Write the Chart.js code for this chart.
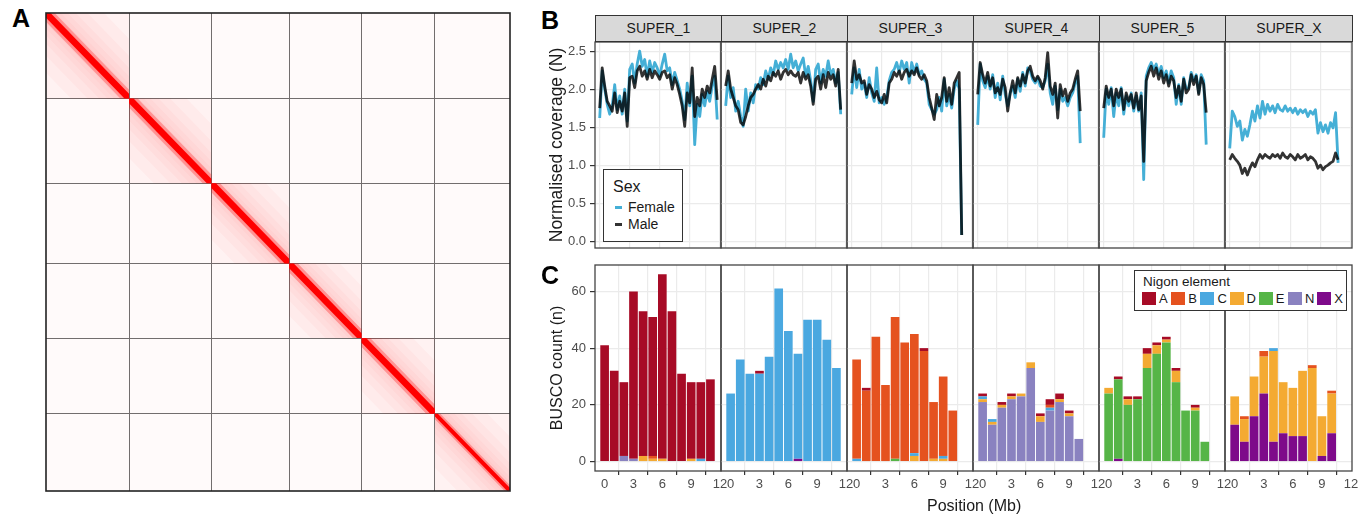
<!DOCTYPE html>
<html>
<head>
<meta charset="utf-8">
<script src="https://cdn.jsdelivr.net/npm/chart.js@4.4.1/dist/chart.umd.min.js"></script>
<style>
  body { margin: 0; background: #fff; font-family: 'Liberation Sans', Arial, sans-serif; }
  #fig { position: relative; width: 1368px; height: 516px; overflow: hidden; background: #fff; }
  canvas { position: absolute; z-index: 1; }
  .letter { position: absolute; font-weight: bold; font-size: 25px; color: #000; line-height: 1; z-index: 5; }
  .strip { position: absolute; top: 15px; height: 27px; background: #d9d9d9; border: 1px solid #333; z-index: 5;
           box-sizing: border-box; font-size: 14px; color: #1a1a1a; text-align: center; line-height: 25px; }
  .xtitle { position: absolute; font-size: 16px; color: #1a1a1a; z-index: 5; }
  .legend { position: absolute; background: #fff; border: 1px solid #333; box-sizing: border-box; color: #1a1a1a; z-index: 5; }
</style>
</head>
<body>
<div id="fig">
  <div class="letter" style="left:12px;top:6px;">A</div>
  <div class="letter" style="left:541px;top:8px;">B</div>
  <div class="letter" style="left:541px;top:263px;">C</div>
  <div class="xtitle" style="left:927px;top:497px;">Position (Mb)</div>

  <div class="legend" style="left:603px;top:169px;width:80px;height:73px;">
    <div style="position:absolute;left:9px;top:8px;font-size:16px;">Sex</div>
    <div style="position:absolute;left:11px;top:36px;width:7px;height:3px;background:#45afd6;"></div>
    <div style="position:absolute;left:24px;top:29px;font-size:14px;">Female</div>
    <div style="position:absolute;left:11px;top:53px;width:7px;height:3px;background:#333;"></div>
    <div style="position:absolute;left:24px;top:46px;font-size:14px;">Male</div>
  </div>

  <div class="legend" id="nigonLegend" style="left:1134px;top:270px;width:213px;height:41px;">
    <div style="position:absolute;left:8px;top:3px;font-size:13.5px;">Nigon element</div>
  </div>
</div>

<script>
// chromosomes
const chromNames = ['SUPER_1', 'SUPER_2', 'SUPER_3', 'SUPER_4', 'SUPER_5', 'SUPER_X'];
const chromLengths = [12.05, 11.95, 11.3, 10.5, 10.65, 10.9]; // Mb, used for the Hi-C map

// normalised coverage, 250 kb windows
const binSize = 0.25;
const female1 = [1.62,2.24,2.00,1.80,1.67,1.78,2.06,1.73,1.91,1.67,2.00,1.58,2.26,2.33,2.08,2.33,2.50,2.30,2.39,2.17,2.37,2.22,2.35,2.28,2.17,2.33,2.46,2.24,2.28,2.06,2.22,2.11,2.00,1.84,1.60,2.08,1.78,2.17,1.27,1.80,1.64,1.93,1.78,1.97,1.84,2.04,2.17,1.60];
const male1   = [1.75,2.28,2.04,1.84,1.78,1.71,1.95,1.69,1.84,1.71,1.95,1.51,2.15,2.17,2.02,2.24,2.30,2.17,2.24,2.13,2.26,2.15,2.24,2.19,2.13,2.22,2.24,2.15,2.19,2.00,2.15,2.06,1.93,1.78,1.51,1.95,1.82,2.28,1.64,1.89,1.78,2.00,1.89,2.04,1.95,2.13,2.30,1.86];
const female2 = [1.78,2.17,1.89,2.02,1.71,1.84,1.64,1.51,2.00,1.71,1.95,1.82,2.06,2.00,2.15,2.06,2.24,2.13,2.28,2.19,2.37,2.26,2.35,2.28,2.39,2.26,2.46,2.28,2.37,2.24,2.33,2.41,2.17,2.30,2.11,1.84,2.26,2.33,2.08,2.26,2.17,2.37,2.19,2.26,2.08,2.22,1.67];
const male2   = [2.04,2.24,2.00,1.89,1.78,1.73,1.56,1.53,1.64,1.78,1.89,1.93,2.00,2.06,2.00,2.13,2.04,2.17,2.11,2.22,2.17,2.24,2.13,2.22,2.26,2.19,2.24,2.19,2.17,2.22,2.08,2.22,2.13,2.19,2.04,1.80,2.13,2.17,2.00,2.19,2.02,2.22,2.13,2.19,2.04,2.26,1.73];
const female3 = [1.93,2.28,2.02,2.26,2.00,2.08,1.89,2.15,1.95,1.84,2.28,1.82,1.89,1.80,1.89,2.11,2.22,2.26,2.35,2.22,2.37,2.26,2.35,2.08,2.35,2.22,2.33,2.19,2.24,2.13,2.08,1.80,1.73,1.67,1.73,1.89,1.71,2.13,1.78,1.93,1.75,2.00,2.11,2.00,0.08];
const male3   = [2.08,2.37,2.13,2.19,2.08,2.11,1.93,2.06,2.00,1.89,1.97,1.86,1.82,1.93,1.82,2.08,2.13,2.22,2.17,2.24,2.13,2.22,2.26,2.17,2.24,2.19,2.28,2.17,2.13,2.19,2.11,1.89,1.75,1.60,1.93,1.78,1.89,2.15,1.84,2.02,1.80,2.08,2.15,2.22,0.08];
const female4 = [1.53,2.33,2.11,2.02,2.17,2.00,2.19,1.89,2.08,1.86,2.17,1.93,1.78,1.95,2.04,1.89,2.13,1.97,2.22,2.04,2.28,2.24,2.13,2.08,2.15,2.04,2.02,2.11,2.33,1.95,1.80,2.04,1.73,2.00,1.84,1.89,1.78,1.89,1.95,2.08,2.17,1.29];
const male4   = [1.93,2.35,2.19,2.08,2.22,2.04,2.15,1.95,2.02,1.93,2.13,2.02,1.71,1.95,2.11,1.95,2.15,2.04,2.19,2.08,2.24,2.30,2.17,2.11,2.17,2.11,2.00,2.15,2.48,2.04,1.93,2.08,1.62,2.06,1.91,2.00,1.84,1.95,2.00,2.13,2.24,1.71];
const female5 = [1.36,2.00,1.80,2.02,1.64,1.95,1.78,2.02,1.67,1.91,1.78,1.95,1.71,1.91,1.71,1.95,0.81,2.17,2.28,2.35,2.26,2.33,2.19,2.30,2.15,2.24,2.08,2.24,2.15,1.80,2.06,1.80,2.15,2.00,2.02,2.22,2.11,2.19,1.95,2.19,2.11,1.27];
const male5   = [1.75,2.04,1.89,2.00,1.78,2.00,1.89,2.00,1.73,1.95,1.84,1.93,1.75,1.95,1.73,1.91,1.05,2.11,2.22,2.30,2.17,2.28,2.13,2.24,2.08,2.19,2.04,2.17,2.11,1.89,2.04,1.84,2.13,1.95,2.00,2.19,2.06,2.17,1.93,2.15,2.06,1.69];
const femaleX = [1.22,1.71,1.64,1.51,1.58,1.33,1.47,1.38,1.53,1.71,1.58,1.78,1.62,1.84,1.67,1.80,1.71,1.78,1.69,1.80,1.73,1.71,1.78,1.71,1.75,1.69,1.75,1.67,1.73,1.69,1.73,1.64,1.71,1.67,1.73,1.42,1.56,1.44,1.53,1.42,1.56,1.49,1.69,1.03];
const maleX   = [1.07,1.14,1.09,1.05,1.00,0.89,0.96,0.87,0.96,1.03,0.98,1.07,1.14,1.09,1.14,1.11,1.09,1.14,1.11,1.14,1.09,1.16,1.11,1.09,1.14,1.11,1.07,1.14,1.09,1.11,1.14,1.07,1.11,1.09,1.05,0.96,1.00,0.94,0.98,1.00,1.03,1.05,1.16,1.07];
const femaleCov = [female1, female2, female3, female4, female5, femaleX];
const maleCov = [male1, male2, male3, male4, male5, maleX];

// BUSCO counts per 1 Mb bin, by Nigon element (one list per chromosome)
const nigonElements = ['A', 'B', 'C', 'D', 'E', 'N', 'X'];
const nigonColors = ['#a70b26', '#e5521f', '#4aa8e0', '#f4aa32', '#56b547', '#8a82c0', '#7e0a8a'];
const nigonA = [[41,32,26,59,51,49,65,53,31,27,27,29], [0,0,0,1,0,0,0,0,0,0,0,0], [0,1,0,0,0,0,0,1,0,0,0], [1,0,1,1,0,0,1,2,2,1,0], [0,1,1,1,2,1,1,1,0,1,0], [0,0,0,0,0,0,0,0,0,0,0]];
const nigonB = [[0,0,0,0,0,1,0,0,0,0,0,0], [0,0,0,0,0,0,0,0,0,0,0,0], [35,25,44,27,50,42,42,39,20,28,18], [0,0,0,0,0,0,0,1,0,0,0], [0,0,0,0,0,0,0,0,0,0,0], [0,1,0,2,0,0,0,0,1,0,1]];
const nigonC = [[0,0,0,0,0,0,0,0,0,0,1,0], [24,36,31,31,37,61,46,37,50,50,43,33], [1,0,0,0,0,0,1,0,0,1,0], [1,1,0,0,0,0,0,1,0,0,0], [0,0,0,0,0,0,0,0,0,0,0], [0,0,0,0,1,0,0,0,0,0,0]];
const nigonD = [[0,0,0,0,2,1,1,0,0,1,0,0], [0,0,0,0,0,0,0,0,0,0,0,0], [0,0,0,0,0,0,2,0,1,1,0], [1,1,1,1,1,2,2,0,1,1,0], [2,0,2,0,5,3,1,4,0,1,0], [10,8,14,13,32,18,17,23,33,14,14]];
const nigonE = [[0,0,0,0,0,0,0,0,0,0,0,0], [0,0,0,0,0,0,0,0,0,0,0,0], [0,0,0,0,1,0,0,0,0,0,0], [0,0,0,0,0,0,0,0,0,0,0], [24,28,20,22,33,38,42,28,18,18,7], [0,0,0,0,0,0,0,0,0,0,0]];
const nigonN = [[0,0,2,1,0,0,0,0,0,0,0,0], [0,0,0,0,0,0,0,0,0,0,0,0], [0,0,0,0,0,0,0,0,0,0,0], [21,13,19,22,23,33,14,18,21,16,8], [0,0,0,0,0,0,0,0,0,0,0], [0,0,0,0,0,0,0,0,0,0,0]];
const nigonX = [[0,0,0,0,0,0,0,0,0,0,0,0], [0,0,0,0,0,0,0,1,0,0,0,0], [0,0,0,0,0,0,0,0,0,0,0], [0,0,0,0,0,0,0,0,0,0,0], [0,1,0,0,0,0,0,0,0,0,0], [13,7,16,24,7,10,9,9,0,2,10]];
const nigonCounts = [nigonA, nigonB, nigonC, nigonD, nigonE, nigonN, nigonX];

// ticks
const coverageTicks = [0, 0.5, 1, 1.5, 2, 2.5];
const buscoTicks = [0, 20, 40, 60];
const positionTicks = [0, 3, 6, 9, 12];

Chart.defaults.font.family = "'Liberation Sans', Arial, sans-serif";
Chart.defaults.animation = false;

const fig = document.getElementById('fig');
const facetLeft = [595, 721, 847, 973, 1099, 1225];
const facetRight = [721, 847, 973, 1099, 1225, 1352];
const PAD = 12;
const AXIS_LEFT = 543; // left edge of the canvas holding the y axis

function addCanvas(left, top, w, h) {
  const c = document.createElement('canvas');
  c.width = w; c.height = h;
  c.style.left = left + 'px'; c.style.top = top + 'px';
  c.style.width = w + 'px'; c.style.height = h + 'px';
  fig.appendChild(c);
  return c;
}

// draws the dark frame round a chart area
const boxPlugin = {
  id: 'box',
  afterDraw(chart, args, opts) {
    const a = chart.chartArea;
    const ctx = chart.ctx;
    ctx.save();
    ctx.strokeStyle = opts.color || '#444';
    ctx.lineWidth = opts.width || 1.3;
    ctx.strokeRect(a.left, a.top, a.right - a.left, a.bottom - a.top);
    ctx.restore();
  }
};

function fixedTicks(list) {
  return s => { s.ticks = list.map(v => ({ value: v })); };
}

// ---------- A: Hi-C contact map ----------
const starts = [];
let total = 0;
chromLengths.forEach(l => { starts.push(total); total += l; });
const inner = starts.slice(1);

function squarePoly(a, b) {
  return [{x: a, y: a}, {x: b, y: a}, {x: b, y: b}, {x: a, y: b}];
}
function bandPoly(a, b, d) {
  return [{x: a, y: a}, {x: a, y: a + d}, {x: b - d, y: b}, {x: b, y: b}, {x: b, y: b - d}, {x: a + d, y: a}];
}
function shape(points, color, order) {
  return { data: points, showLine: true, fill: 'shape', backgroundColor: color, borderWidth: 0, pointRadius: 0, order: order };
}

const heatSets = [shape(squarePoly(0, total), 'rgba(255,0,0,0.02)', 40)];
const bandFractions = [0.7, 0.5, 0.36, 0.26, 0.18, 0.12, 0.07];
chromLengths.forEach((l, i) => {
  const a = starts[i], b = a + l;
  heatSets.push(shape(squarePoly(a, b), 'rgba(255,0,0,0.035)', 30));
  bandFractions.forEach((f, j) => {
    heatSets.push(shape(bandPoly(a, b, l * f), 'rgba(255,0,0,0.03)', 29 - j));
  });
  heatSets.push(shape(bandPoly(a, b, i === 5 ? 0.8 : 1.25), 'rgba(255,0,0,0.28)', 17));
  heatSets.push(shape(bandPoly(a, b, i === 5 ? 0.42 : 0.66), '#ff0000', 16));
});

new Chart(addCanvas(40, 7, 476, 490), {
  type: 'scatter',
  data: { datasets: heatSets },
  options: {
    responsive: false,
    layout: { padding: 6 },
    plugins: { legend: { display: false }, tooltip: { enabled: false }, box: { color: '#222', width: 1.6 } },
    scales: {
      x: { type: 'linear', min: 0, max: total, afterBuildTicks: fixedTicks(inner),
           afterFit: s => { s.height = 0; s.paddingLeft = 0; s.paddingRight = 0; },
           ticks: { display: false }, grid: { color: '#707070', lineWidth: 1, drawTicks: false }, border: { display: false } },
      y: { type: 'linear', min: 0, max: total, reverse: true, afterBuildTicks: fixedTicks(inner),
           afterFit: s => { s.width = 0; s.paddingTop = 0; s.paddingBottom = 0; },
           ticks: { display: false }, grid: { color: '#707070', lineWidth: 1, drawTicks: false }, border: { display: false } }
    }
  },
  plugins: [boxPlugin]
});

// ---------- B: coverage facets ----------
chromNames.forEach((name, k) => {
  const strip = document.createElement('div');
  strip.className = 'strip';
  strip.style.left = facetLeft[k] + 'px';
  strip.style.width = (facetRight[k] - facetLeft[k] + 1) + 'px';
  strip.textContent = name;
  fig.appendChild(strip);

  const hasY = k === 0;
  const cLeft = hasY ? AXIS_LEFT : facetLeft[k] - PAD;
  const cWidth = facetRight[k] + PAD - cLeft;
  const toPts = arr => arr.map((v, i) => ({ x: i * binSize, y: v }));

  new Chart(addCanvas(cLeft, 38, cWidth, 214), {
    type: 'line',
    data: {
      datasets: [
        { label: 'Female', data: toPts(femaleCov[k]), borderColor: '#45afd6', borderWidth: 2.8,
          pointRadius: 0, tension: 0, borderJoinStyle: 'round', order: 1 },
        { label: 'Male', data: toPts(maleCov[k]), borderColor: 'rgba(0,0,0,0.8)', borderWidth: 2.8,
          pointRadius: 0, tension: 0, borderJoinStyle: 'round', order: 0 }
      ]
    },
    options: {
      responsive: false,
      layout: { padding: { left: hasY ? 0 : PAD, right: PAD, top: 4, bottom: 4 } },
      plugins: { legend: { display: false }, tooltip: { enabled: false }, box: { color: '#444', width: 1.3 } },
      scales: {
        x: { type: 'linear', min: -0.47, max: 12.13, afterBuildTicks: fixedTicks(positionTicks),
             afterFit: s => { s.height = 0; s.paddingLeft = 0; s.paddingRight = 0; },
             ticks: { display: false }, grid: { color: '#ebebeb', lineWidth: 1.2, drawTicks: false }, border: { display: false } },
        y: { type: 'linear', min: -0.09, max: 2.62, afterBuildTicks: fixedTicks(coverageTicks),
             afterFit: s => { s.width = hasY ? facetLeft[0] - AXIS_LEFT : 0; s.paddingTop = 0; s.paddingBottom = 0; },
             ticks: { display: hasY, color: '#4d4d4d', font: { size: 13 }, padding: 4, callback: v => v.toFixed(1) },
             grid: { color: '#ebebeb', lineWidth: 1.2, drawTicks: hasY, tickLength: 5, tickColor: '#333' },
             border: { display: false },
             title: { display: hasY, text: 'Normalised coverage (N)', color: '#1a1a1a', font: { size: 17.5 }, padding: { top: 4, bottom: 0 } } }
      }
    },
    plugins: [boxPlugin]
  });
});

// ---------- C: BUSCO facets ----------
chromNames.forEach((name, k) => {
  const hasY = k === 0;
  const cLeft = hasY ? AXIS_LEFT : facetLeft[k] - PAD;
  const cWidth = facetRight[k] + PAD - cLeft;
  // bottom of stack first: X, N, E, D, C, B, A
  const datasets = [];
  for (let e = nigonElements.length - 1; e >= 0; e--) {
    datasets.push({
      label: nigonElements[e],
      data: nigonCounts[e][k].map((v, i) => ({ x: i, y: v })),
      backgroundColor: nigonColors[e],
      borderWidth: 0,
      barPercentage: 0.9,
      categoryPercentage: 1
    });
  }

  new Chart(addCanvas(cLeft, 261, cWidth, 234), {
    type: 'bar',
    data: { datasets: datasets },
    options: {
      responsive: false,
      layout: { padding: { left: hasY ? 0 : PAD, right: PAD, top: 4, bottom: 0 } },
      plugins: { legend: { display: false }, tooltip: { enabled: false }, box: { color: '#444', width: 1.3 } },
      scales: {
        x: { type: 'linear', stacked: true, offset: false, min: -1.0, max: 12.1, afterBuildTicks: fixedTicks(positionTicks),
             afterFit: s => { s.height = 24; s.paddingLeft = 0; s.paddingRight = 0; },
             ticks: { display: true, autoSkip: false, maxRotation: 0, color: '#4d4d4d', font: { size: 13 }, padding: 2 },
             grid: { color: '#ebebeb', lineWidth: 1.2, drawTicks: true, tickLength: 4, tickColor: '#333' }, border: { display: false } },
        y: { type: 'linear', stacked: true, min: -3.3, max: 69.3, afterBuildTicks: fixedTicks(buscoTicks),
             afterFit: s => { s.width = hasY ? facetLeft[0] - AXIS_LEFT : 0; s.paddingTop = 0; s.paddingBottom = 0; },
             ticks: { display: hasY, color: '#4d4d4d', font: { size: 13 }, padding: 4 },
             grid: { color: '#ebebeb', lineWidth: 1.2, drawTicks: hasY, tickLength: 5, tickColor: '#333' },
             border: { display: false },
             title: { display: hasY, text: 'BUSCO count (n)', color: '#1a1a1a', font: { size: 16 }, padding: { top: 5, bottom: 0 } } }
      }
    },
    plugins: [boxPlugin]
  });
});

// Nigon legend
const leg = document.getElementById('nigonLegend');
nigonElements.forEach((el, i) => {
  const sw = document.createElement('div');
  sw.style.cssText = 'position:absolute;top:21px;width:14px;height:13px;background:' + nigonColors[i] + ';left:' + (7 + i * 29.2) + 'px;';
  leg.appendChild(sw);
  const tx = document.createElement('div');
  tx.style.cssText = 'position:absolute;top:20px;font-size:13px;left:' + (24 + i * 29.2) + 'px;';
  tx.textContent = el;
  leg.appendChild(tx);
});
</script>
</body>
</html>
